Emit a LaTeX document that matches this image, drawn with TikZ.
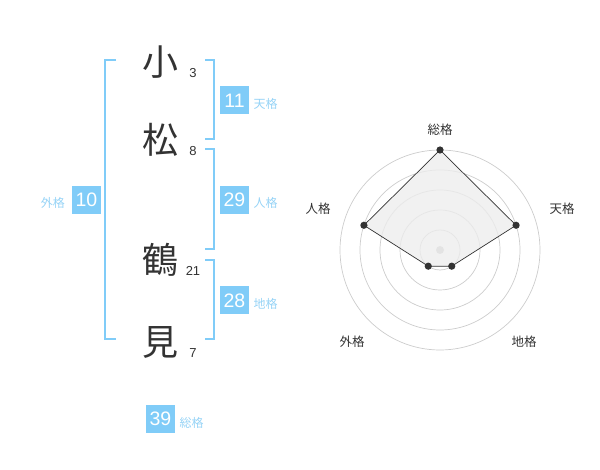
\documentclass[tikz,border=0pt]{standalone}
\usepackage{fontspec}
\setmainfont{Liberation Sans}
\newfontfamily\jp{Noto Sans CJK JP}
\definecolor{sky}{HTML}{80CCF8}
\definecolor{skytext}{HTML}{96D3F6}
\definecolor{ink}{HTML}{333333}
\begin{document}
\begin{tikzpicture}[x=1pt,y=-1pt,
	bracket/.style={draw=sky,line width=2pt},
	numbox/.style={fill=sky,text=white,minimum width=29pt,minimum height=28pt,inner sep=0pt,font=\fontsize{19.5}{19.5}\selectfont},
	kaku/.style={text=skytext,inner sep=0pt,font=\jp\fontsize{12}{12}\selectfont},
	kanji/.style={text=ink,inner sep=0pt,font=\jp\fontsize{36}{36}\selectfont},
	kakusu/.style={text=ink,inner sep=0pt,font=\fontsize{13}{13}\selectfont},
	ring/.style={draw=black!20,line width=.7pt},
	axlabel/.style={text=ink,inner sep=0pt,font=\jp\fontsize{12.5}{12.5}\selectfont}]
	\useasboundingbox (0,0) rectangle (600,470);
	% name
	\foreach \k/\s/\y/\n in {小/3/62/a,松/8/140/b,鶴/21/260/c,見/7/342/d}{
		\node[kanji] (k\n) at (160,\y) {\k};
		\node[kakusu] (s\n) at (193,\y+11) {\s};
	}
	% brackets
	\path (116,60) coordinate (L1) (105,60) coordinate (L2)
	(105,339) coordinate (L3) (116,339) coordinate (L4);
	\draw[bracket] (L1)--(L2)--(L3)--(L4);
	\foreach \t/\b/\n in {60/139/ten,149/249/jin,260/339/chi}{
		\path (205,\t) coordinate (\n1) (214,\t) coordinate (\n2)
		(214,\b) coordinate (\n3) (205,\b) coordinate (\n4);
		\draw[bracket] (\n1)--(\n2)--(\n3)--(\n4);
	}
	% scores
	\node[numbox] (bten) at (234.5,100.5) {11};
	\node[kaku,anchor=west] (tten) at (253.5,104) {天格};
	\node[numbox] (bjin) at (234.5,200) {29};
	\node[kaku,anchor=west] (tjin) at (253.5,203) {人格};
	\node[numbox] (bchi) at (234.5,300.5) {28};
	\node[kaku,anchor=west] (tchi) at (253.5,304) {地格};
	\node[numbox] (bgai) at (86.5,200) {10};
	\node[kaku,anchor=east] (tgai) at (65,203) {外格};
	\node[numbox] (bso) at (160.5,419) {39};
	\node[kaku,anchor=west] (tso) at (179.5,422.5) {総格};
	% radar
	\coordinate (C) at (440,250);
	\foreach \r in {20,40,60,80,100}{
		\draw[ring] (C) circle (\r);
	}
	\fill[black!25] (C) circle (4);
	\foreach \a/\r/\n in {-90/100/so,-18/80/ten,54/20/chi,126/20/gai,198/80/jin}{
		\path (C) ++(\a:\r) coordinate (p\n);
	}
	\draw[fill=black!7,fill opacity=.8,draw=ink,line width=.7pt] (pso)--(pten)--(pchi)--(pgai)--(pjin)--cycle;
	\foreach \n in {so,ten,chi,gai,jin}{
		\fill[ink] (p\n) circle (3.6);
	}
	\node[axlabel] (rso) at (440,130) {総格};
	\node[axlabel] (rten) at (562,209) {天格};
	\node[axlabel] (rchi) at (524,342) {地格};
	\node[axlabel] (rgai) at (352,342) {外格};
	\node[axlabel] (rjin) at (318,209) {人格};
\end{tikzpicture}
\end{document}
